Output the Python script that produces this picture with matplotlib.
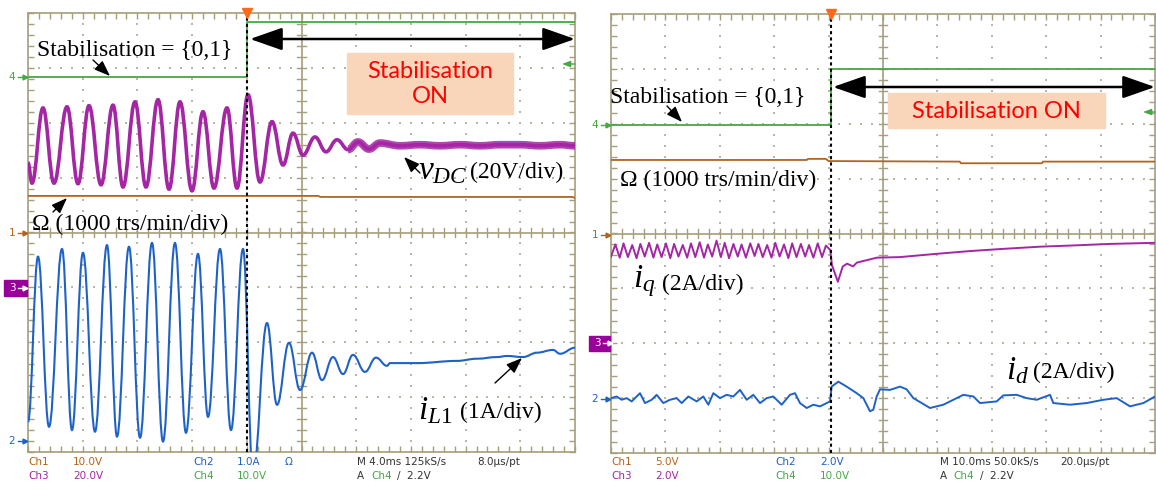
import numpy as np
import matplotlib
matplotlib.use("Agg")
import matplotlib.pyplot as plt
from matplotlib.patches import Rectangle, PathPatch, FancyArrowPatch
from matplotlib.path import Path

plt.rcParams['mathtext.fontset'] = 'custom'
plt.rcParams['mathtext.rm'] = 'Liberation Serif'
plt.rcParams['mathtext.it'] = 'Liberation Serif:italic'

W, H = 1156, 486

# ---- data (time in divisions 0..10, amplitude in divisions -4..4) ----
# left capture: 4 ms/div
vdc_t = [0.0, 0.073, 0.274, 0.475, 0.713, 0.914, 1.115, 1.335, 1.554, 1.737, 1.956, 2.157, 2.377, 2.578,
         2.779, 2.998, 3.199, 3.400, 3.638, 3.821, 4.022, 4.241, 4.461, 4.662, 4.845, 5.027, 5.247, 5.448,
         5.649, 5.850, 6.033, 6.234, 6.435, 6.801, 7.166, 7.532, 7.898, 8.263, 8.629, 8.995, 9.360, 9.726, 10.0]
vdc = [1.27, 0.90, 2.27, 0.90, 2.29, 0.89, 2.31, 0.87, 2.32, 0.83, 2.38, 0.83, 2.42, 0.79,
       2.38, 0.76, 2.20, 0.81, 2.27, 0.81, 2.51, 0.92, 2.02, 1.23, 1.81, 1.41, 1.74, 1.47,
       1.69, 1.51, 1.65, 1.52, 1.63, 1.58, 1.60, 1.58, 1.60, 1.58, 1.60, 1.60, 1.58, 1.60, 1.58]

il1_t = [0.0, 0.183, 0.384, 0.622, 0.804, 1.005, 1.225, 1.444, 1.627, 1.846, 2.048, 2.267, 2.468, 2.687,
         2.888, 3.108, 3.291, 3.510, 3.711, 3.931, 4.113, 4.369, 4.552, 4.771, 4.973, 5.192, 5.375, 5.576,
         5.759, 5.941, 6.161, 6.362, 6.563, 6.618, 7.112, 7.843, 8.208, 8.574, 8.757, 9.049, 9.305, 9.598,
         9.726, 10.0]
il1 = [-3.45, -0.44, -3.54, -0.30, -3.60, -0.37, -3.63, -0.23, -3.72, -0.26, -3.74, -0.19, -3.81, -0.19,
       -3.65, -0.39, -3.36, -0.30, -3.60, -0.30, -4.42, -1.65, -3.14, -2.01, -2.87, -2.19, -2.69, -2.27,
       -2.58, -2.23, -2.54, -2.28, -2.43, -2.38, -2.38, -2.34, -2.30, -2.27, -2.25, -2.27, -2.19, -2.14,
       -2.21, -2.10]

omega_l_t = [0.0, 5.30, 5.35, 9.95, 10.0]
omega_l = [0.667, 0.667, 0.648, 0.648, 0.63]

stab_l_t = [0.0, 4.0, 4.0, 10.0]
stab_l = [2.83, 2.83, 3.84, 3.84]

# right capture: 10 ms/div
iq_t = [0.00, 0.08, 0.16, 0.23, 0.31, 0.39, 0.47, 0.54, 0.62, 0.70, 0.78, 0.85, 0.93, 1.01, 1.09, 1.16,
        1.24, 1.32, 1.40, 1.47, 1.55, 1.63, 1.71, 1.78, 1.86, 1.94, 2.02, 2.09, 2.17, 2.25, 2.33, 2.40,
        2.48, 2.56, 2.64, 2.71, 2.79, 2.87, 2.95, 3.02, 3.10, 3.18, 3.26, 3.33, 3.41, 3.49, 3.57, 3.64,
        3.72, 3.80, 3.88, 3.95, 4.03, 4.04, 4.06, 4.17, 4.26, 4.34, 4.45, 4.52, 4.89, 5.31, 5.99, 6.60,
        7.21, 7.89, 8.44, 9.17, 10.0]
iq = [-0.42, -0.20, -0.44, -0.18, -0.43, -0.21, -0.45, -0.19, -0.42, -0.17, -0.44, -0.20, -0.43, -0.18,
      -0.45, -0.19, -0.42, -0.21, -0.44, -0.18, -0.43, -0.16, -0.44, -0.20, -0.42, -0.13, -0.43, -0.17,
      -0.45, -0.19, -0.42, -0.20, -0.44, -0.18, -0.41, -0.19, -0.43, -0.21, -0.44, -0.17, -0.42, -0.20,
      -0.45, -0.18, -0.43, -0.19, -0.42, -0.21, -0.44, -0.18, -0.43, -0.22, -0.30, -0.38, -0.57, -0.88,
      -0.60, -0.55, -0.60, -0.53, -0.44, -0.43, -0.37, -0.32, -0.28, -0.24, -0.22, -0.19, -0.17]

id_t = [0.0, 0.104, 0.196, 0.288, 0.380, 0.533, 0.625, 0.748, 0.839, 0.962, 1.085, 1.207, 1.299, 1.422,
        1.575, 1.697, 1.789, 1.881, 2.004, 2.126, 2.249, 2.371, 2.494, 2.616, 2.739, 2.862, 2.984, 3.137,
        3.290, 3.382, 3.474, 3.597, 3.719, 3.842, 3.965, 4.026, 4.056, 4.179, 4.332, 4.516, 4.639, 4.761,
        4.822, 4.884, 4.945, 5.129, 5.312, 5.435, 5.558, 5.864, 6.109, 6.477, 6.661, 6.783, 7.089, 7.212,
        7.457, 7.641, 7.825, 8.070, 8.131, 8.437, 8.744, 9.050, 9.295, 9.540, 9.786, 10.0]
id_ = [-3.00, -2.97, -3.03, -3.00, -3.06, -2.91, -3.09, -3.03, -2.94, -3.09, -3.03, -3.00, -3.09, -2.97,
       -3.06, -2.97, -3.12, -2.91, -3.00, -2.94, -2.97, -2.85, -3.03, -2.94, -3.09, -3.00, -2.97, -3.12,
       -2.94, -2.91, -3.09, -3.18, -3.12, -3.15, -3.09, -3.06, -2.79, -2.70, -2.79, -2.91, -3.00, -3.24,
       -3.21, -2.97, -2.84, -2.85, -2.79, -2.84, -3.00, -3.18, -3.12, -2.94, -2.97, -3.09, -3.06, -2.95,
       -2.94, -3.00, -3.03, -2.94, -3.09, -3.12, -3.09, -3.03, -3.00, -3.15, -3.09, -2.97]

omega_r_t = [0.0, 3.60, 3.62, 3.95, 4.0, 6.41, 6.43, 7.92, 7.94, 10.0]
omega_r = [1.34, 1.34, 1.36, 1.36, 1.32, 1.31, 1.28, 1.28, 1.31, 1.31]

stab_r_t = [0.0, 4.04, 4.04, 10.0]
stab_r = [1.98, 1.98, 2.99, 2.99]

C_PURPLE = '#A526A5'
C_BLUE = '#1E62C8'
C_GREEN = '#45A845'
C_BROWN = '#B2641E'
C_GRID = '#A69E7C'
C_DOT = '#BDB6A2'

fig = plt.figure(figsize=(W / 100, H / 100), dpi=100)


def fx(px):
    return px / W


def fy(py):
    return 1 - py / H


def scope_axes(l, t, r, b):
    ax = fig.add_axes([fx(l), fy(b), (r - l) / W, (b - t) / H])
    ax.set_xlim(0, 10)
    ax.set_ylim(-4, 4)
    for s in ax.spines.values():
        s.set_color(C_GRID)
        s.set_linewidth(1.2)
    ax.set_xticks(np.arange(0, 10.01, 0.2))
    ax.set_yticks(np.arange(-4, 4.01, 0.2))
    ax.tick_params(direction='in', length=4, width=1, color=C_GRID, top=True, right=True,
                   labelbottom=False, labelleft=False)
    # dotted graticule
    gx, gy = [], []
    for k in range(1, 10):
        if k == 5:
            continue
        for v in np.arange(-4, 4.01, 0.2):
            gx.append(k); gy.append(v)
    for k in range(-3, 4):
        if k == 0:
            continue
        for v in np.arange(0, 10.01, 0.2):
            gx.append(v); gy.append(k)
    ax.scatter(gx, gy, s=1.2, marker='s', color=C_DOT, lw=0, zorder=1)
    # centre crosshair with ticks
    ax.axhline(0, color=C_GRID, lw=1.2, zorder=1)
    ax.axvline(5, color=C_GRID, lw=1.2, zorder=1)
    for v in np.arange(0.2, 10, 0.2):
        ax.plot([v, v], [-0.08, 0.08], color=C_GRID, lw=1, zorder=1)
    for v in np.arange(-3.8, 4, 0.2):
        ax.plot([4.92, 5.08], [v, v], color=C_GRID, lw=1, zorder=1)
    return ax


def smooth_trace(ax, t, y, **kw):
    # bezier segments with flat tangents at each read extremum
    verts = [(t[0], y[0])]
    codes = [Path.MOVETO]
    for i in range(1, len(t)):
        d = (t[i] - t[i - 1]) * 0.4
        verts += [(t[i - 1] + d, y[i - 1]), (t[i] - d, y[i]), (t[i], y[i])]
        codes += [Path.CURVE4] * 3
    ax.add_patch(PathPatch(Path(verts, codes), fill=False, **kw))


def chan_marker(px, py, label, color, boxed=False, box=None):
    if boxed:
        fig.patches.append(Rectangle((fx(box[0]), fy(box[3])), (box[2] - box[0]) / W, (box[3] - box[1]) / H,
                                     transform=fig.transFigure, color='#990099', zorder=5))
        tc = 'white'
    else:
        tc = color
    fig.text(fx(px), fy(py), label, color=tc, fontsize=7.5, ha='center', va='center', zorder=6)
    fig.add_artist(plt.Line2D([fx(px + 6), fx(px + 13)], [fy(py), fy(py)], color=tc, lw=1,
                              transform=fig.transFigure, zorder=6))
    fig.add_artist(plt.Line2D([fx(px + 13)], [fy(py)], marker='>', ms=3.5, color=tc,
                              transform=fig.transFigure, zorder=6))


def arrow(x0, y0, x1, y1, double=False, scale=12, lw=1.0, color='black'):
    style = '<|-|>,head_length=1.0,head_width=0.35' if double else '-|>,head_length=0.8,head_width=0.3'
    fig.add_artist(FancyArrowPatch((fx(x0), fy(y0)), (fx(x1), fy(y1)),
                                   transform=fig.transFigure, arrowstyle=style,
                                   mutation_scale=scale, lw=lw, color=color,
                                   shrinkA=0, shrinkB=0, zorder=8))


serif = 'Liberation Serif'
sans = 'Lato'
mono = 'DejaVu Sans'
FS = 17
FM = 24

# ---------------- left capture ----------------
axl = scope_axes(28, 13, 575, 452)
axl.plot(stab_l_t, stab_l, color=C_GREEN, lw=1.3, zorder=3)
axl.plot(omega_l_t, omega_l, color=C_BROWN, lw=1.3, zorder=3)
smooth_trace(axl, vdc_t, vdc, edgecolor=C_PURPLE, lw=2.6, zorder=4)
smooth_trace(axl, vdc_t[29:], vdc[29:], edgecolor=C_PURPLE, lw=5.5, alpha=0.85, zorder=4)
smooth_trace(axl, il1_t, il1, edgecolor=C_BLUE, lw=1.5, zorder=4)
axl.axvline(4.0, color='black', ls=(0, (1.5, 1.5)), lw=1.5, zorder=6)
axl.plot([4.0], [4.0], marker='v', ms=7, color='#FF6A1A', clip_on=False, zorder=7)

chan_marker(12, 77, '4', C_GREEN)
chan_marker(12, 233, '1', C_BROWN)
chan_marker(12, 288, '3', C_PURPLE, boxed=True, box=(4, 280, 27, 296))
chan_marker(12, 441, '2', C_BLUE)

fig.text(fx(37), fy(51), 'Stabilisation = {0,1}', fontsize=FS, family=serif, va='center')
arrow(93, 60, 110, 76)
arrow(250, 39, 575, 39, double=True, scale=20, lw=1.8)
fig.patches.append(Rectangle((fx(347), fy(114)), 166 / W, 61 / H, transform=fig.transFigure,
                             color='#F9D5BA', zorder=2))
fig.text(fx(430), fy(84), 'Stabilisation\nON', color='red', fontsize=17, family=sans,
         ha='center', va='center', linespacing=1.25, zorder=3)
arrow(575, 64, 562, 64, scale=6, color=C_GREEN)
fig.text(fx(418), fy(170), r'$v_{DC}$', fontsize=FM, va='center', zorder=9)
fig.text(fx(470), fy(172), '(20V/div)', fontsize=FS, family=serif, va='center', zorder=9)
arrow(420, 173, 404, 157)
fig.text(fx(32), fy(224), 'Ω (1000 trs/min/div)', fontsize=FS, family=serif, va='center', zorder=9)
arrow(53, 212, 67, 198)
fig.text(fx(418), fy(410), r'$i_{L1}$', fontsize=FM, va='center', zorder=9)
fig.text(fx(460), fy(412), '(1A/div)', fontsize=FS, family=serif, va='center', zorder=9)
arrow(495, 383, 522, 358)

# ---------------- right capture ----------------
axr = scope_axes(611, 14, 1155, 453)
axr.plot(stab_r_t, stab_r, color=C_GREEN, lw=1.3, zorder=3)
axr.plot(omega_r_t, omega_r, color=C_BROWN, lw=1.3, zorder=3)
axr.plot(iq_t, iq, color=C_PURPLE, lw=1.4, zorder=4)
axr.plot(id_t, id_, color=C_BLUE, lw=1.4, zorder=4)
axr.axvline(4.04, color='black', ls=(0, (1.5, 1.5)), lw=1.5, zorder=6)
axr.plot([4.04], [4.0], marker='v', ms=7, color='#FF6A1A', clip_on=False, zorder=7)

chan_marker(595, 125, '4', C_GREEN)
chan_marker(595, 235, '1', C_BROWN)
chan_marker(597, 343, '3', C_PURPLE, boxed=True, box=(589, 336, 610, 351))
chan_marker(595, 399, '2', C_BLUE)

fig.text(fx(610), fy(97), 'Stabilisation = {0,1}', fontsize=FS, family=serif, va='center', zorder=9)
arrow(667, 106, 682, 122)
arrow(833, 87, 1155, 87, double=True, scale=20, lw=1.8)
fig.patches.append(Rectangle((fx(888), fy(128)), 217 / W, 35 / H, transform=fig.transFigure,
                             color='#F9D5BA', zorder=2))
fig.text(fx(996), fy(111), 'Stabilisation ON', color='red', fontsize=17, family=sans,
         ha='center', va='center', zorder=3)
arrow(1155, 112, 1143, 112, scale=6, color=C_GREEN)
fig.text(fx(620), fy(180), 'Ω (1000 trs/min/div)', fontsize=FS, family=serif, va='center', zorder=9)
fig.text(fx(633), fy(281), r'$i_q$', fontsize=FM, va='center', zorder=9)
fig.text(fx(662), fy(284), '(2A/div)', fontsize=FS, family=serif, va='center', zorder=9)
fig.text(fx(1006), fy(370), r'$i_d$', fontsize=FM, va='center', zorder=9)
fig.text(fx(1033), fy(372), '(2A/div)', fontsize=FS, family=serif, va='center', zorder=9)

# ---------------- status lines ----------------
status = [
    (28, 462, 'Ch1', C_BROWN), (73, 462, '10.0V', C_BROWN), (28, 476, 'Ch3', C_PURPLE), (73, 476, '20.0V', C_PURPLE),
    (193, 462, 'Ch2', C_BLUE), (237, 462, '1.0A', C_BLUE), (285, 462, 'Ω', C_BLUE),
    (193, 476, 'Ch4', C_GREEN), (237, 476, '10.0V', C_GREEN),
    (357, 462, 'M 4.0ms 125kS/s', '#333333'), (477, 462, '8.0µs/pt', '#333333'),
    (357, 476, 'A', '#333333'), (371, 476, 'Ch4', C_GREEN), (397, 476, '/  2.2V', '#333333'),
    (611, 462, 'Ch1', C_BROWN), (655, 462, '5.0V', C_BROWN), (611, 476, 'Ch3', C_PURPLE), (655, 476, '2.0V', C_PURPLE),
    (775, 462, 'Ch2', C_BLUE), (820, 462, '2.0V', C_BLUE), (775, 476, 'Ch4', C_GREEN), (820, 476, '10.0V', C_GREEN),
    (940, 462, 'M 10.0ms 50.0kS/s', '#333333'), (1060, 462, '20.0µs/pt', '#333333'),
    (940, 476, 'A', '#333333'), (953, 476, 'Ch4', C_GREEN), (980, 476, '/  2.2V', '#333333'),
]
for px, py, s, c in status:
    fig.text(fx(px), fy(py), s, color=c, fontsize=7.5, family=mono, va='center')

fig.savefig('out.png', dpi=100)
